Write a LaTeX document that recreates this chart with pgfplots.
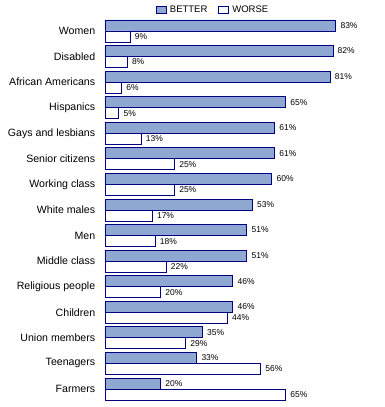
\documentclass[border=0pt]{standalone}
\usepackage{pgfplots}
\pgfplotsset{compat=1.18}
\usepackage{fontspec}
\setmainfont{Liberation Sans}
\definecolor{betterfill}{HTML}{8FA8D2}
\definecolor{edge}{HTML}{000080}
\begin{document}
\begin{tikzpicture}
\begin{axis}[
  at={(105pt,5.2pt)}, anchor=south west,
  scale only axis, width=278pt, height=383.6pt,
  xbar, xmin=0, xmax=100,
  ymin=-0.5, ymax=14.5, y dir=reverse,
  ytick={0,...,14},
  yticklabels={Women,Disabled,African Americans,Hispanics,Gays and lesbians,Senior citizens,Working class,White males,Men,Middle class,Religious people,Children,Union members,Teenagers,Farmers},
  yticklabel style={font=\fontsize{10.6}{12}\selectfont, xshift=-2pt},
  xtick=\empty,
  axis line style={draw=none},
  major tick style={draw=none},
  bar width=11pt,
  /pgf/number format/assume math mode=true,
  nodes near coords={\pgfmathprintnumber{\pgfplotspointmeta}\%},
  nodes near coords style={font=\fontsize{8.5}{9}\selectfont, anchor=west, xshift=1pt},
  legend columns=2,
  legend style={draw=none, at={(0.389,1.021)}, anchor=center, font=\fontsize{9.5}{10}\selectfont, inner sep=0pt, /tikz/every odd column/.append style={column sep=1pt}, /tikz/every even column/.append style={column sep=9pt}},
  legend image code/.code={\draw[#1] (0pt,-3.5pt) rectangle (10pt,3.5pt);},
]
\addplot[fill=betterfill, draw=edge, line width=0.9pt, bar shift=5.5pt] coordinates {
(83,0) (82,1) (81,2) (65,3) (61,4) (61,5) (60,6) (53,7) (51,8) (51,9) (46,10) (46,11) (35,12) (33,13) (20,14)};
\addlegendentry{BETTER}
\addplot[fill=white, draw=edge, line width=0.9pt, bar shift=-5.5pt] coordinates {
(9,0) (8,1) (6,2) (5,3) (13,4) (25,5) (25,6) (17,7) (18,8) (22,9) (20,10) (44,11) (29,12) (56,13) (65,14)};
\addlegendentry{WORSE}
\end{axis}
\pgfresetboundingbox
\path[use as bounding box] (0,0) rectangle (385pt,407pt);
\end{tikzpicture}
\end{document}
